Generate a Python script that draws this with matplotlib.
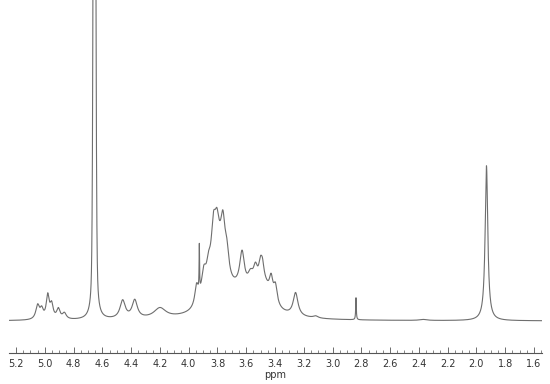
import numpy as np
import matplotlib
matplotlib.use("Agg")
import matplotlib.pyplot as plt

# Lorentzian peaks: position (ppm), height, half width (ppm)
PEAK_PPM = [5.050, 5.022, 4.980, 4.953, 4.906, 4.864,
            4.655,
            4.459, 4.375, 4.200,
            3.945, 3.926, 3.895, 3.862, 3.828, 3.804, 3.762, 3.735,
            3.800, 3.660,
            3.629, 3.570, 3.536, 3.501, 3.487, 3.480, 3.427, 3.397,
            3.257, 3.117, 2.837, 2.370, 1.930]
PEAK_H = [14, 9, 23, 14, 10, 6,
          1200,
          18, 18, 10,
          20, 45, 26, 20, 40, 20, 45, 25,
          55, 22,
          36, 16, 19, 18, 12, 25, 20, 18,
          23, 2, 22, 1, 155]
PEAK_W = [0.015, 0.013, 0.012, 0.013, 0.014, 0.016,
          0.004,
          0.022, 0.022, 0.050,
          0.015, 0.002, 0.020, 0.018, 0.018, 0.015, 0.018, 0.018,
          0.050, 0.140,
          0.020, 0.025, 0.018, 0.015, 0.012, 0.060, 0.015, 0.015,
          0.020, 0.020, 0.0025, 0.030, 0.011]

# gaussian part of the big water peak (flat-walled top)
G_PPM = [4.655]
G_H = [600]
G_SIGMA = [0.007]

X_MAJOR = [5.2, 5.0, 4.8, 4.6, 4.4, 4.2, 4.0, 3.8, 3.6, 3.4, 3.2, 3.0,
           2.8, 2.6, 2.4, 2.2, 2.0, 1.8, 1.6]

ppm = np.linspace(5.25, 1.54, 20000)
inten = np.zeros_like(ppm)
for p, h, w in zip(PEAK_PPM, PEAK_H, PEAK_W):
    inten += h * w**2 / (w**2 + (ppm - p)**2)
for p, h, s in zip(G_PPM, G_H, G_SIGMA):
    inten += h * np.exp(-(ppm - p)**2 / (2 * s**2))

fig = plt.figure(figsize=(5.5, 3.84), dpi=100)
ax = fig.add_axes([9/550, 31/384, 533/550, 353/384])
ax.plot(ppm, inten, color="#6e6e6e", lw=0.8)
ax.set_xlim(5.249, 1.544)
ax.set_ylim(-32, 321)

for s in ["left", "right", "top"]:
    ax.spines[s].set_visible(False)
ax.spines["bottom"].set_color("#555555")
ax.spines["bottom"].set_linewidth(0.8)
ax.set_yticks([])
ax.set_xticks(X_MAJOR)
ax.set_xticklabels(["%.1f" % v for v in X_MAJOR])
ax.set_xticks(np.arange(1.55, 5.25, 0.05), minor=True)
ax.tick_params(axis="x", which="major", direction="in", length=4, width=0.6,
               color="#555555", labelsize=7, labelcolor="#333333", pad=4)
ax.tick_params(axis="x", which="minor", direction="in", length=2, width=0.5,
               color="#555555")
ax.set_xlabel("ppm", fontsize=7, color="#333333", labelpad=1)

fig.savefig("out.png", dpi=100)
